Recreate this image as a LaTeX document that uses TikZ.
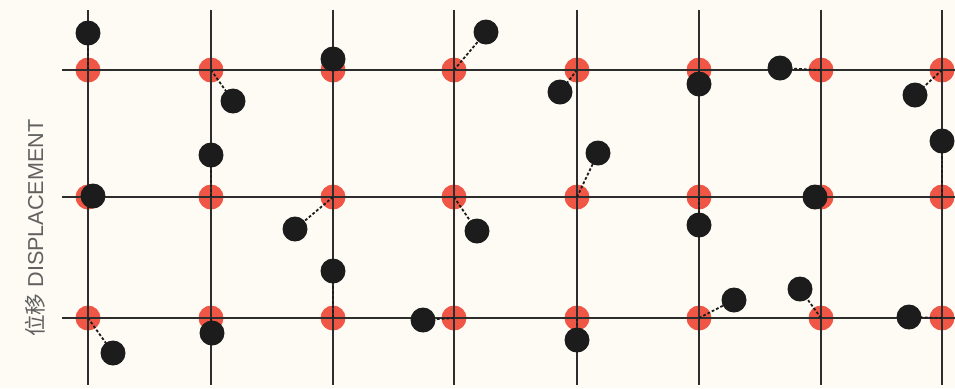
\documentclass[tikz,border=0pt]{standalone}
\usepackage{fontspec}
\setsansfont{Liberation Sans}
\newfontfamily\cjk{Noto Sans CJK SC}
\definecolor{paper}{RGB}{253,251,243}
\definecolor{sitered}{RGB}{240,86,70}
\definecolor{atomblack}{RGB}{28,28,28}
\definecolor{gridgray}{RGB}{45,45,45}
\tikzset{
    site/.style={circle,fill=sitered,inner sep=0pt,minimum size=12.5pt},
    atom/.style={circle,fill=atomblack,inner sep=0pt,minimum size=12.5pt},
    gridline/.style={gridgray,line width=0.75pt},
    link/.style={atomblack,line width=0.9pt,dash pattern=on 1.4pt off 1pt},
    axisname/.style={rotate=90,text=black!62,font=\sffamily\fontsize{10.8}{12}\selectfont}
}
\begin{document}
\begin{tikzpicture}[x=0.5pt,y=-0.5pt]
        \fill[paper] (0,0) rectangle (955,388);
        \useasboundingbox (0,0) rectangle (955,388);

        \foreach \x [count=\i] in {88,211,333,454,577,699,821,942}
            \foreach \y [count=\j] in {70,197,318}
                \node[site] (s\i\j) at (\x,\y) {};

        \foreach \x in {88,211,333,454,577,699,821,942}
            \draw[gridline] (\x,10) -- (\x,385);
        \foreach \y in {70,197,318}
            \draw[gridline] (62,\y) -- (955,\y);

        % displaced atoms
        \foreach \i/\j/\x/\y in {1/1/88/33, 2/1/233/101, 3/1/333/59, 4/1/486/32,
                5/1/560/92, 6/1/699/84, 7/1/780/68, 8/1/915/95,
                1/2/93/196, 2/2/211/155, 3/2/295/229, 4/2/477/231,
                5/2/598/153, 6/2/699/225, 7/2/815/197, 8/2/942/141,
                1/3/113/353, 2/3/212/333, 3/3/333/271, 4/3/423/320,
                5/3/577/340, 6/3/734/300, 7/3/800/289, 8/3/909/317} {
            \coordinate (p\i\j) at (\x,\y);
            \draw[link] (s\i\j.center) -- (p\i\j);
            \node[atom] (a\i\j) at (p\i\j) {};
        }

        \node[axisname] (disp) at (35,228) {{\cjk 位移} DISPLACEMENT};
\end{tikzpicture}
\end{document}
